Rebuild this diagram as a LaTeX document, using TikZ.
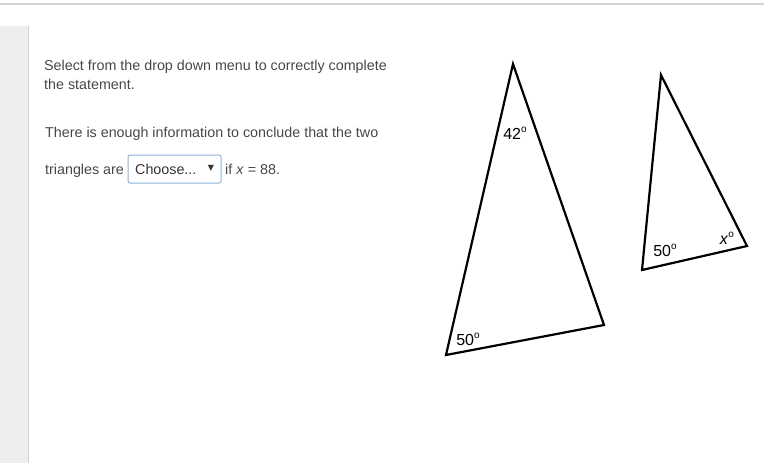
\documentclass[tikz,border=0pt]{standalone}
\usepackage{fontspec}
\setmainfont{Liberation Sans}
\newfontfamily\symfont{DejaVu Sans}
\definecolor{txtgray}{HTML}{474747}
\definecolor{panelgray}{HTML}{EEEEEE}
\definecolor{rulegray}{HTML}{D4D4D4}
\definecolor{boxblue}{HTML}{8EB2DE}
\newcommand{\dg}{\raisebox{0.45em}{\fontsize{10}{10}\selectfont o}}
\begin{document}
\begin{tikzpicture}[x=1pt,y=-1pt,
  prompt/.style={anchor=base west, inner sep=0pt, text=txtgray, font=\fontsize{14.3}{16}\selectfont},
  angle/.style={inner sep=0pt, font=\fontsize{16}{18}\selectfont},
  side/.style={line width=2.2pt, line join=miter}]
\useasboundingbox (0,0) rectangle (764,463);
% page frame
\draw[rulegray, line width=1.5pt] (0,4) -- (764,4);
\fill[panelgray] (0,26) rectangle (28,463);
\draw[rulegray, line width=1pt] (28,26) -- (28,463);
% question text
\node[prompt] (l1) at (44,70) {Select from the drop down menu to correctly complete};
\node[prompt] (l2) at (44,89) {the statement.};
\node[prompt] (l3) at (45,137) {There is enough information to conclude that the two};
\node[prompt] (l4) at (45,174) {triangles are};
\draw[boxblue, rounded corners=2pt, line width=1pt] (128,155) rectangle (221,183);
\node[prompt, text=black!80] (ch) at (135,174) {Choose...};
\node[inner sep=0pt, font=\symfont\fontsize{8}{8}\selectfont, text=black!80] (arr) at (211,168) {▼};
\node[prompt] (l5) at (225,174) {if \textit{x} = 88.};
% big triangle
\coordinate (A) at (513,64);
\coordinate (B) at (446,355);
\coordinate (C) at (604,325);
\draw[side] (A) -- (B) -- (C) -- cycle;
\node[angle] (a1) at (515,133) {42\dg};
\node[angle] (a2) at (468,339) {50\dg};
% small triangle
\coordinate (D) at (661,75);
\coordinate (E) at (642,270);
\coordinate (F) at (747,246);
\draw[side] (D) -- (E) -- (F) -- cycle;
\node[angle] (a3) at (665,250) {50\dg};
\node[angle] (a4) at (727,238) {\textit{x}\dg};
\end{tikzpicture}
\end{document}
